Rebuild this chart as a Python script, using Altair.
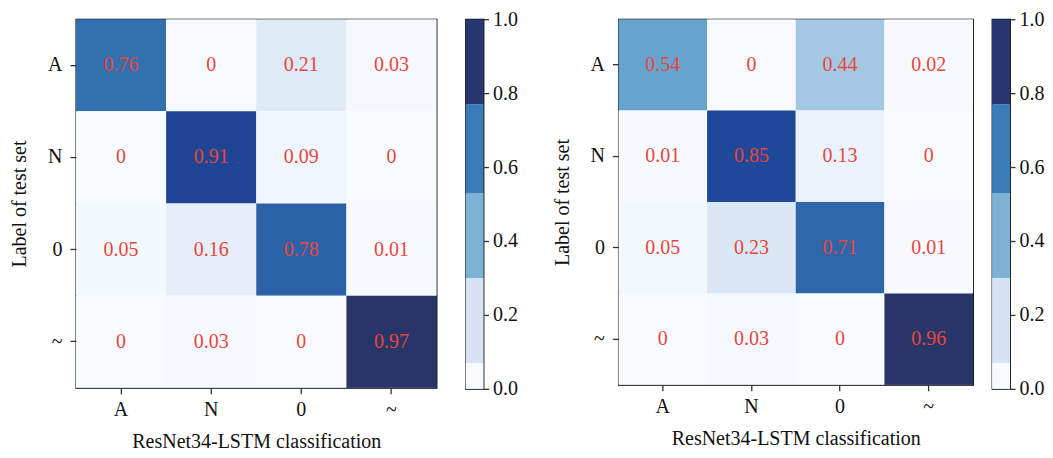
import altair as alt
import pandas as pd

classes = ["A", "N", "0", "~"]
left_vals = [
    [0.76, 0, 0.21, 0.03],
    [0, 0.91, 0.09, 0],
    [0.05, 0.16, 0.78, 0.01],
    [0, 0.03, 0, 0.97],
]
right_vals = [
    [0.54, 0, 0.44, 0.02],
    [0.01, 0.85, 0.13, 0],
    [0.05, 0.23, 0.71, 0.01],
    [0, 0.03, 0, 0.96],
]

x_title = "ResNet34-LSTM classification"
y_title = "Label of test set"

cell_stops = [0.0, 0.03, 0.1, 0.16, 0.22, 0.44, 0.54, 0.71, 0.76, 0.78, 0.85, 0.91, 0.96, 1.0]
cell_colors = ["#f7fbff", "#f5f9fe", "#eef5fc", "#e6eff9", "#dce9f5", "#a4c8e2", "#66a4ce",
               "#2f66aa", "#3270b0", "#2c62a8", "#1f479a", "#1e4593", "#283569", "#27336a"]

band_edges = [0.0, 0.07, 0.3, 0.53, 0.77, 1.0]
band_colors = ["#f7fbff", "#d5e3f3", "#7eb2d5", "#3a7cba", "#283772"]
cbar_ticks = [0.0, 0.2, 0.4, 0.6, 0.8, 1.0]

FONT = "Liberation Serif"
FS = 20


def fmt(v):
    return "0" if v == 0 else f"{v:g}"


def heat(vals, w, h):
    rows = []
    for i, t in enumerate(classes):
        for j, p in enumerate(classes):
            rows.append({"true": t, "pred": p, "v": vals[i][j], "label": fmt(vals[i][j])})
    df = pd.DataFrame(rows)
    base = alt.Chart(df)
    x = alt.X("pred:N", sort=classes, title=x_title,
              scale=alt.Scale(paddingInner=0, paddingOuter=0),
              axis=alt.Axis(labelAngle=0, labelPadding=6, titlePadding=12))
    y = alt.Y("true:N", sort=classes, title=y_title,
              scale=alt.Scale(paddingInner=0, paddingOuter=0),
              axis=alt.Axis(labelPadding=8, titlePadding=18))
    rect = base.mark_rect().encode(
        x=x, y=y,
        color=alt.Color("v:Q", scale=alt.Scale(domain=cell_stops, range=cell_colors,
                                                interpolate="rgb"), legend=None),
    )
    text = base.mark_text(font=FONT, fontSize=20, color="#e8453c").encode(
        x=x, y=y, text="label:N")
    return alt.layer(rect, text).properties(width=w, height=h)


def cbar(h):
    df = pd.DataFrame({
        "lo": band_edges[:-1],
        "hi": band_edges[1:],
        "band": list(range(len(band_colors))),
    })
    return alt.Chart(df).mark_rect().encode(
        y=alt.Y("lo:Q", scale=alt.Scale(domain=[0, 1], nice=False, zero=False),
                axis=alt.Axis(orient="right", values=cbar_ticks, format=".1f",
                              title=None, labelPadding=4, tickSize=5)),
        y2="hi:Q",
        color=alt.Color("band:O", scale=alt.Scale(domain=list(range(len(band_colors))),
                                                   range=band_colors), legend=None),
    ).properties(width=18, height=h)


left = alt.hconcat(heat(left_vals, 361, 369), cbar(370), spacing=27).resolve_scale(
    color="independent", x="independent", y="independent")
right = alt.hconcat(heat(right_vals, 355, 366), cbar(370), spacing=17).resolve_scale(
    color="independent", x="independent", y="independent")

chart = alt.hconcat(left, right, spacing=32).resolve_scale(
    color="independent", x="independent", y="independent"
).properties(
    padding={"left": 0, "top": 0, "right": 0, "bottom": 0}
).configure_view(
    stroke="black", strokeWidth=1.3
).configure_axis(
    domain=False, grid=False, tickColor="#333333", tickSize=6, tickWidth=1.3,
    labelFont=FONT, labelFontSize=FS, labelColor="#111111",
    titleFont=FONT, titleFontSize=FS, titleFontWeight="normal", titleColor="#111111",
)

chart.save("out.html", embed_options={"renderer": "svg", "actions": False})
